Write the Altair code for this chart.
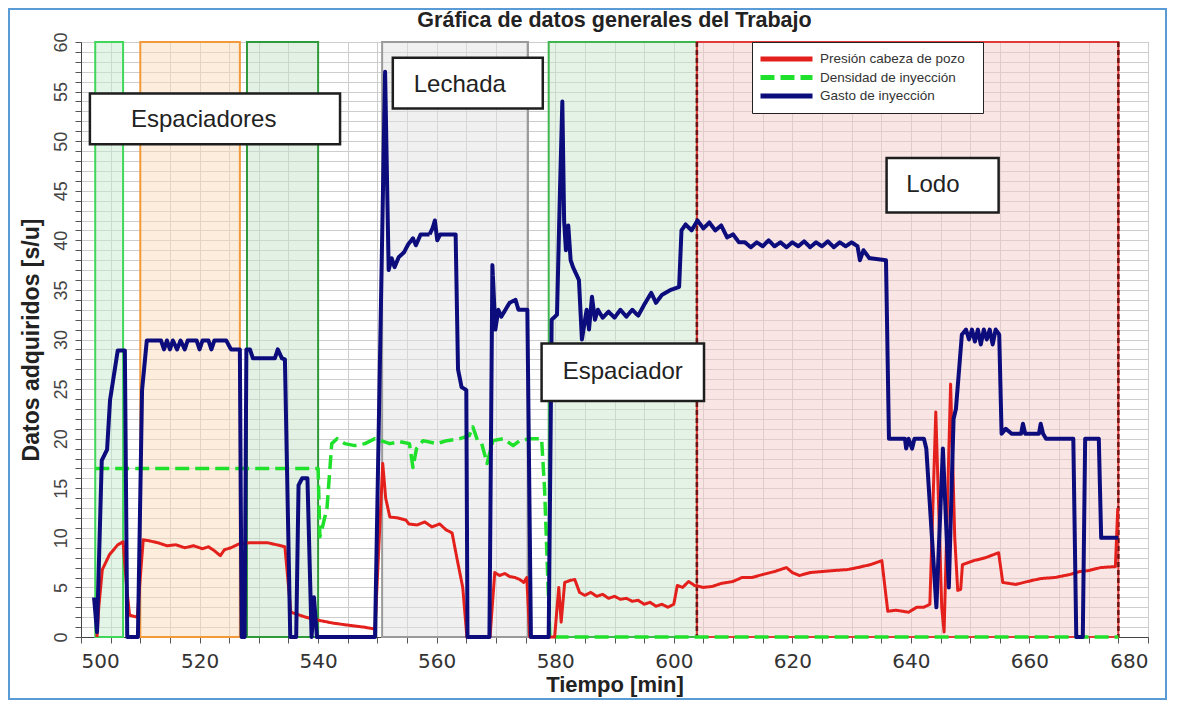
import altair as alt
import pandas as pd

# ---------------- data ----------------
SERIES = ["Presión cabeza de pozo", "Densidad de inyección", "Gasto de inyección"]
COLORS = ["#e3201b", "#1fe02a", "#0c0c7c"]
DASHES = [[1, 0], [14, 6], [1, 0]]

blue_t = [502.2, 502.7, 503.5, 504.4, 504.9, 506.2, 507.4, 507.8, 509.6, 510.3, 511.1, 513.5, 514.0, 514.5,
          515.0, 515.5, 516.2, 516.8, 517.5, 518.0, 519.5, 520.0, 520.5, 521.5, 522.0, 522.5, 524.5, 525.3,
          526.8, 527.1, 527.6, 527.9, 528.5, 529.0, 532.7, 533.2, 533.9, 534.4, 535.3, 536.3, 536.7, 537.3,
          538.2, 538.9, 539.3, 539.8, 549.6, 551.3, 551.9, 552.4, 552.9, 553.6, 554.5, 555.2, 556.0, 556.5,
          557.3, 558.8, 559.3, 559.7, 560.1, 560.6, 563.2, 563.6, 564.2, 565.0, 565.2, 568.9, 569.4, 569.9,
          570.4, 570.9, 572.3, 573.3, 573.8, 575.3, 575.9, 578.9, 579.4, 580.3, 580.8, 581.2, 581.5, 581.8,
          582.2, 582.6, 583.0, 584.0, 584.5, 585.3, 585.7, 586.2, 586.7, 587.2, 588.0, 589.0, 590.0, 591.0,
          592.0, 593.0, 594.0, 595.0, 596.2, 597.0, 598.0, 599.5, 600.9, 601.3, 602.0, 603.0, 604.0, 605.0,
          606.0, 607.0, 608.0, 609.0, 610.0, 611.0, 612.0, 613.0, 614.0, 615.0, 616.0, 617.0, 618.0, 619.0,
          620.0, 621.0, 622.0, 623.0, 624.0, 625.0, 626.0, 627.0, 628.0, 629.0, 630.0, 631.0, 631.4, 632.0,
          633.0, 635.8, 636.3, 639.0, 639.2, 639.6, 640.2, 640.6, 642.2, 642.6, 644.3, 645.4, 646.4, 647.2,
          647.6, 648.6, 649.3, 649.8, 650.3, 650.8, 651.3, 651.8, 652.3, 652.8, 653.3, 653.8, 654.3, 654.9,
          655.3, 656.0, 657.0, 658.6, 658.9, 659.3, 661.6, 661.9, 662.3, 662.8, 667.4, 667.9, 669.0, 669.4,
          671.7, 672.1, 675.0]
blue_v = [4, 0.5, 17.8, 18.9, 23.9, 28.9, 28.9, 0, 0, 24.9, 29.9, 29.9, 29, 29.9,
          29, 29.9, 29, 29.9, 29, 29.9, 29.9, 29, 29.9, 29.9, 29, 29.9, 29.9, 29,
          29, 0, 0, 29, 29, 28.1, 28.1, 29, 28.1, 28, 0, 0, 15.3, 16,
          16, 0, 4, 0, 0, 57, 37, 38.2, 37.3, 38.3, 38.8, 39.6, 40.2, 39.5,
          40.6, 40.6, 41.2, 42, 40, 40.6, 40.6, 27, 25.2, 24.9, 0, 0, 37.5, 31,
          33, 32.3, 33.7, 34, 33, 33, 0, 0, 32, 32.5, 45, 54, 42, 39,
          41.5, 38, 37.3, 36, 30, 33, 31, 34.3, 32, 33, 32.2, 32.8, 32.2, 33,
          32.3, 33, 32.4, 33.5, 34.7, 33.7, 34.5, 35, 35.3, 41, 41.6, 41, 42, 41.2,
          41.8, 41, 41.5, 40.3, 40.6, 39.8, 39.8, 39.3, 39.8, 39.4, 40, 39.4, 39.8, 39.3,
          39.8, 39.4, 39.9, 39.3, 39.8, 39.4, 39.9, 39.3, 39.8, 39.4, 39.8, 39.4, 38, 39,
          38.2, 38, 20, 20, 19, 20, 19, 20, 20, 19, 3, 19, 5, 22,
          23, 30.5, 31, 30, 31, 29.8, 31, 29.5, 31, 30, 31, 29.5, 31, 30.5,
          20.5, 21, 20.5, 20.5, 21.5, 20.5, 20.5, 21.5, 20.5, 20, 20, 0, 0, 20,
          20, 10, 10]

red_t = [502.7, 503.0, 503.6, 504.8, 506.2, 507.1, 507.7, 508.2, 509.5, 510.0, 510.5, 511.5, 513.0, 514.5,
         516.0, 517.5, 519.0, 520.5, 521.5, 522.5, 523.5, 524.2, 525.3, 526.7, 528.5, 531.5, 533.0, 534.4,
         535.4, 537.9, 540.0, 542.5, 545.0, 547.7, 549.6, 550.9, 551.4, 552.1, 553.5, 554.8, 555.3, 556.7,
         558.0, 559.2, 560.5, 561.6, 562.6, 563.4, 564.4, 565.1, 569.0, 569.8, 570.6, 571.5, 572.3, 573.2,
         574.0, 574.7, 575.2, 575.7, 579.9, 580.6, 581.0, 581.6, 582.5, 583.3, 584.1, 585.0, 586.0, 587.0,
         588.0, 589.0, 590.0, 591.0, 592.0, 593.0, 594.0, 595.0, 596.0, 597.0, 598.0, 599.0, 600.0, 600.6,
         601.5, 602.5, 603.5, 605.0, 606.5, 608.0, 610.0, 611.5, 613.2, 615.0, 617.0, 619.0, 620.0, 621.2,
         623.0, 625.0, 627.0, 629.3, 631.0, 633.2, 635.1, 636.1, 637.5, 639.6, 641.0, 642.2, 643.2, 644.2,
         645.2, 645.6, 646.7, 647.4, 647.9, 648.4, 648.7, 650.6, 652.6, 654.8, 655.5, 657.7, 660.4, 662.0,
         664.3, 666.8, 668.5, 670.0, 672.0, 674.5, 674.9]
red_v = [0, 3, 6.8, 8.3, 9.3, 9.6, 5, 2.2, 2.0, 6, 9.8, 9.7, 9.5, 9.2,
         9.3, 9.0, 9.2, 8.9, 9.1, 8.7, 8.2, 8.8, 9.0, 9.4, 9.5, 9.5, 9.3, 9.1,
         2.5, 2.0, 1.7, 1.4, 1.2, 1.0, 0.8, 17.5, 14, 12.1, 12.0, 11.8, 11.4, 11.3,
         11.6, 11.1, 11.4, 10.8, 10.5, 8, 5, 0, 0, 6.5, 6.2, 6.4, 6.1, 6.0,
         5.8, 5.5, 6.0, 0, 0, 5, 1.5, 5.5, 5.7, 5.8, 4.5, 4.2, 4.5, 4.1,
         4.3, 3.9, 4.1, 3.8, 3.9, 3.6, 3.7, 3.3, 3.5, 3.1, 3.3, 3.0, 3.3, 5.2,
         5.0, 5.6, 5.2, 5.0, 5.1, 5.4, 5.6, 6.0, 6.0, 6.3, 6.6, 7.0, 6.5, 6.2,
         6.5, 6.6, 6.7, 6.8, 7.0, 7.3, 7.7, 2.6, 2.7, 2.5, 3.0, 3.0, 3.3, 22.7,
         3, 0.5, 25.5, 10, 4.7, 4.8, 7.3, 7.7, 8.0, 8.5, 5.5, 5.3, 5.7, 5.9,
         6.0, 6.3, 6.6, 6.7, 7.0, 7.1, 13]

green_t = [502.4, 540.0, 540.3, 540.9, 541.5, 542.3, 543.2, 544.5, 546.2, 547.9, 549.6, 552.1, 553.8, 555.4,
           556.0, 556.6, 557.7, 560.0, 561.7, 563.9, 565.5, 566.1, 566.9, 567.6, 568.5, 569.5, 571.2, 572.9,
           574.0, 575.7, 577.7, 578.2, 579.1, 675.0]
green_v = [17, 17, 10.1, 11.5, 13, 19.5, 20, 19.5, 19.3, 19.5, 20, 19.5, 19.7, 19.5,
           17.1, 19.0, 19.8, 19.5, 19.8, 20, 20.3, 21.2, 19.8, 19.5, 17.5, 19.8, 20, 19.3,
           19.8, 20, 20, 15, 0, 0]

# stage bands (minutes)
band_start = [502.4, 510.0, 528.0, 550.8, 578.9, 603.9]
band_end = [507.1, 526.8, 540.0, 575.4, 603.9, 675.0]
band_fill = ["#c8ecd0", "#fbdcbc", "#c6e3c8", "#e2e2e2", "#cce8cf", "#f6cccc"]
band_stroke = ["#3fd65a", "#f29a3a", "#2e9a3c", "#9a9a9a", "#3fb552", "#e03a3a"]

phase_lines = [603.9, 675.0]

box_labels = ["Espaciadores", "Lechada", "Espaciador", "Lodo"]
box_t1 = [501.5, 552.6, 577.7, 635.9]
box_t2 = [543.7, 577.9, 605.1, 654.8]
box_v1 = [49.7, 53.3, 23.8, 42.8]
box_v2 = [54.8, 58.4, 29.6, 48.3]
label_t = [520.7, 563.9, 591.4, 643.7]
label_v = [52.1, 55.7, 26.7, 45.6]

x_ticks = list(range(500, 681, 5))
y_ticks = list(range(0, 61, 1))

# ---------------- tables ----------------
lines = pd.concat([
    pd.DataFrame({"t": red_t, "v": red_v, "serie": SERIES[0]}),
    pd.DataFrame({"t": green_t, "v": green_v, "serie": SERIES[1]}),
    pd.DataFrame({"t": blue_t, "v": blue_v, "serie": SERIES[2]}),
], ignore_index=True)

bands = pd.DataFrame({"t": band_start, "t2": band_end, "v": [0] * 6, "v2": [60] * 6,
                      "fill": band_fill, "stroke": band_stroke})
rules = pd.DataFrame({"t": phase_lines})
boxes = pd.DataFrame({"t": box_t1, "t2": box_t2, "v": box_v1, "v2": box_v2})
labels = pd.DataFrame({"t": label_t, "v": label_v, "txt": box_labels})

# ---------------- encodings ----------------
X = alt.X("t:Q",
          scale=alt.Scale(domain=[500, 680], nice=False, zero=False),
          axis=alt.Axis(values=x_ticks,
                        labelExpr="datum.value % 20 === 0 ? datum.label : ''",
                        labelFlush=True, labelOverlap=False,
                        grid=True, tickSize=6,
                        labelFont="DejaVu Sans", labelFontSize=20, labelColor="#333",
                        labelPadding=8,
                        title="Tiempo [min]", titleFont="Liberation Sans", titleFontSize=22,
                        titleFontWeight="bold", titleColor="#222", titlePadding=3))
Y = alt.Y("v:Q",
          scale=alt.Scale(domain=[0, 60], nice=False),
          axis=alt.Axis(values=y_ticks,
                        labelExpr="datum.value % 5 === 0 ? datum.label : ''",
                        labelOverlap=False, labelAngle=-90, labelAlign="center",
                        labelBaseline="bottom",
                        grid=True, tickSize=6,
                        labelFont="Liberation Sans", labelFontSize=18, labelColor="#444",
                        labelPadding=5,
                        title="Datos adquiridos [s/u]", titleFont="Liberation Sans",
                        titleFontSize=23, titleFontWeight="bold", titleColor="#222",
                        titlePadding=9))

LEG = alt.Legend(title=None, orient="none", legendX=671, legendY=0,
                 symbolType="M-5.2,0L5.2,0", symbolSize=100, symbolStrokeWidth=5,
                 symbolOffset=19, labelOffset=26, clipHeight=18,
                 labelFont="Liberation Sans", labelFontSize=13.5, labelColor="#333",
                 labelLimit=400, padding=8, rowPadding=0.5,
                 fillColor="white", strokeColor="#222",
                 labelExpr="datum.label + '\u2800'")
COLOR = alt.Color("serie:N", scale=alt.Scale(domain=SERIES, range=COLORS), legend=LEG)
DASH = alt.StrokeDash("serie:N", scale=alt.Scale(domain=SERIES, range=DASHES), legend=LEG)

band_layer = alt.Chart(bands).mark_rect(fillOpacity=0.5, strokeWidth=2).encode(
    x=X, x2="t2:Q", y=Y, y2="v2:Q",
    fill=alt.Fill("fill:N", scale=None), stroke=alt.Stroke("stroke:N", scale=None))

rule_layer = alt.Chart(rules).mark_rule(color="#6e1414", strokeWidth=2.5,
                                        strokeDash=[5, 3]).encode(x=X)


def series_layer(name, width):
    return alt.Chart(lines).transform_filter(
        alt.datum.serie == name
    ).mark_line(strokeWidth=width, strokeJoin="round").encode(
        x=X, y=Y, color=COLOR, strokeDash=DASH, order="t:Q")


green_layer = series_layer(SERIES[1], 3.5)
red_layer = series_layer(SERIES[0], 3)
blue_layer = series_layer(SERIES[2], 4)

box_layer = alt.Chart(boxes).mark_rect(fill="white", stroke="#1e1e1e", strokeWidth=2.5).encode(
    x=X, x2="t2:Q", y=Y, y2="v2:Q")
text_layer = alt.Chart(labels).mark_text(font="Liberation Sans", fontSize=24, color="#222",
                                         align="center", baseline="middle").encode(
    x=X, y=Y, text="txt:N")

frame_layer = alt.Chart(pd.DataFrame({"k": [0]})).mark_rect(
    fillOpacity=0, stroke="#5b9bd5", strokeWidth=2).encode(
    x=alt.value(-72), x2=alt.value(1085), y=alt.value(-33), y2=alt.value(657))

chart = alt.layer(
    band_layer, rule_layer, green_layer, red_layer, blue_layer, box_layer, text_layer, frame_layer
).properties(
    width=1067, height=595,
    padding={"left": 73, "top": 34, "right": 20, "bottom": 63},
    autosize=alt.AutoSizeParams(type="none"),
    title=alt.TitleParams("Gráfica de datos generales del Trabajo", frame="group", offset=4,
                          dy=27, anchor="middle", fontSize=21.5,
                          font="Liberation Sans", fontWeight="bold", color="#222"),
    background="white",
).configure_view(
    stroke="#777", strokeWidth=1
).configure_axis(
    domainColor="#444", tickColor="#555", gridColor="#cdcdcd", gridWidth=1
)

chart.save("out.html", embed_options={"renderer": "svg", "actions": False})
